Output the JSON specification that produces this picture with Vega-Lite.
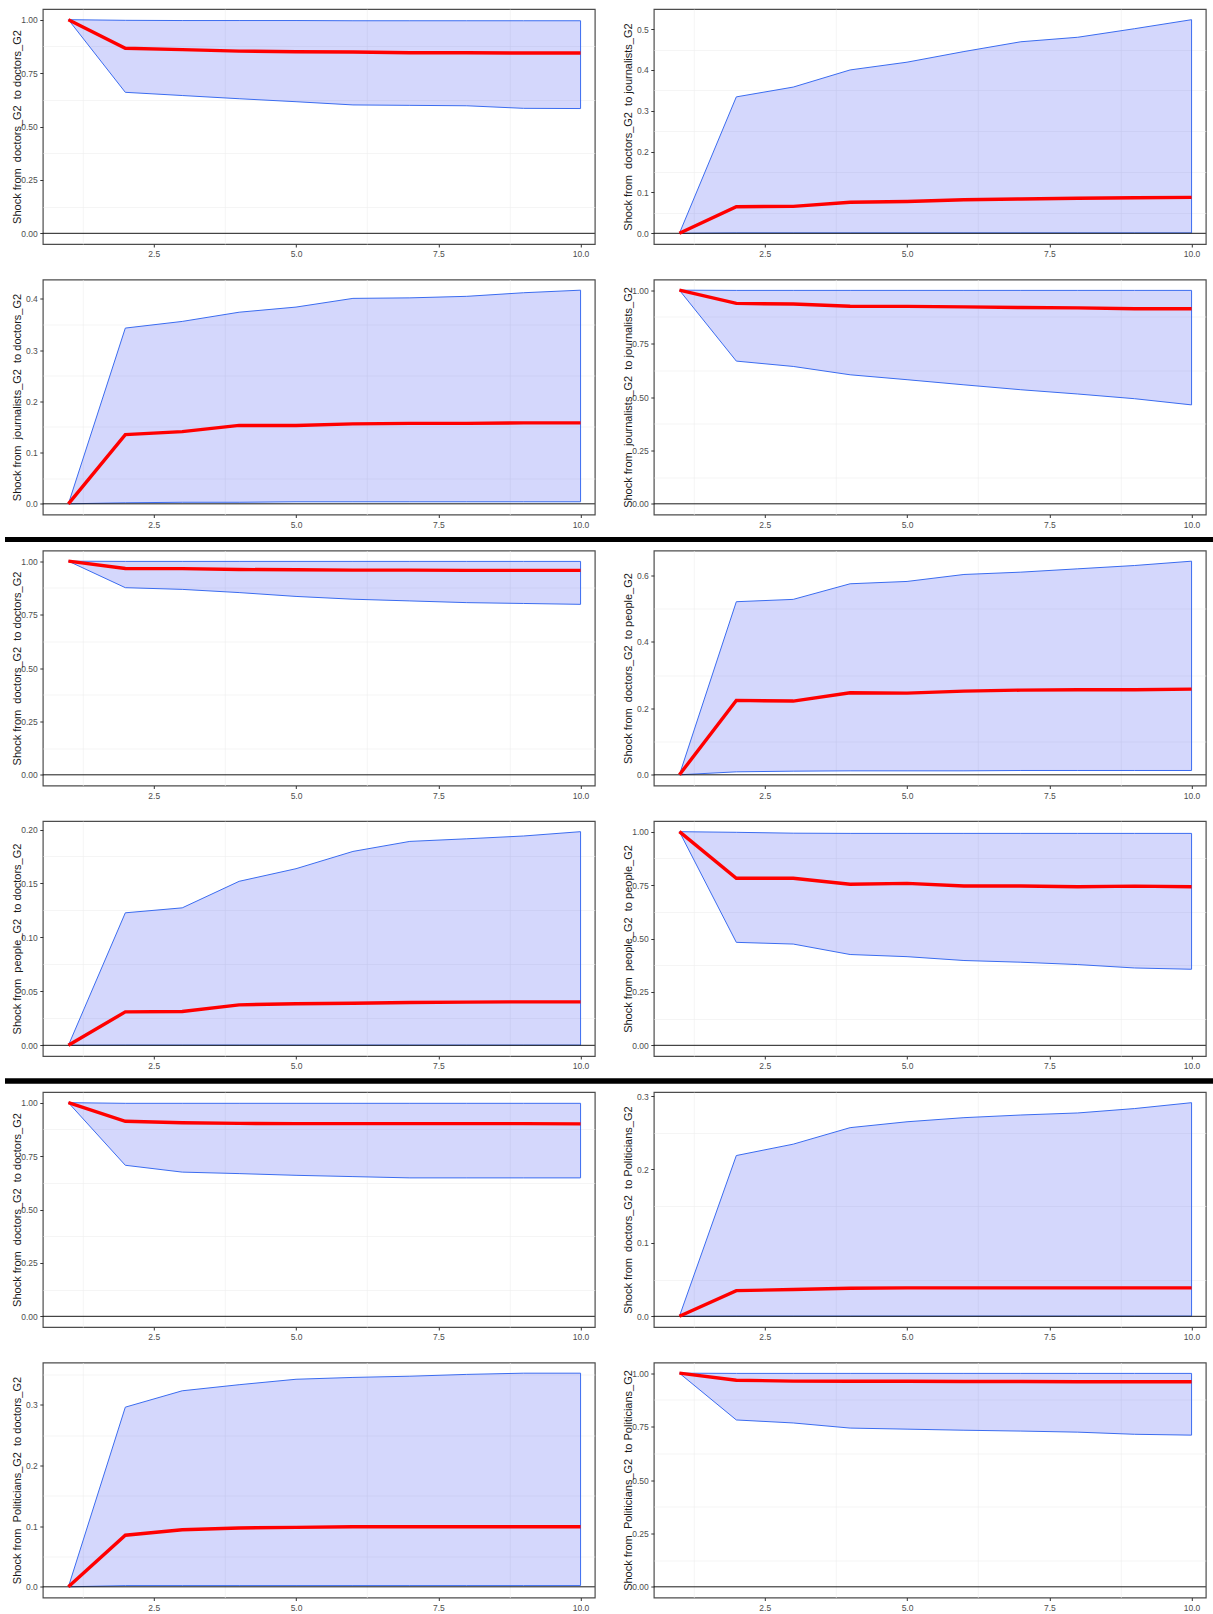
{
"$schema": "https://vega.github.io/schema/vega-lite/v6.json",
"padding": {"left": 5, "top": 8, "right": 0, "bottom": 0},
"background": "#ffffff",
"datasets": {"irf": [
{"p":1,"h":1,"irf":1,"lo":1,"hi":1},{"p":1,"h":2,"irf":0.866,"lo":0.66,"hi":0.997},{"p":1,"h":3,"irf":0.86,"lo":0.645,"hi":0.996},{"p":1,"h":4,"irf":0.853,"lo":0.63,"hi":0.996},{"p":1,"h":5,"irf":0.85,"lo":0.616,"hi":0.996},{"p":1,"h":6,"irf":0.849,"lo":0.601,"hi":0.995},{"p":1,"h":7,"irf":0.845,"lo":0.599,"hi":0.995},{"p":1,"h":8,"irf":0.845,"lo":0.597,"hi":0.995},{"p":1,"h":9,"irf":0.844,"lo":0.585,"hi":0.995},{"p":1,"h":10,"irf":0.844,"lo":0.584,"hi":0.995},
{"p":2,"h":1,"irf":0,"lo":0,"hi":0},{"p":2,"h":2,"irf":0.065,"lo":0.001,"hi":0.334},{"p":2,"h":3,"irf":0.066,"lo":0.001,"hi":0.358},{"p":2,"h":4,"irf":0.076,"lo":0.001,"hi":0.4},{"p":2,"h":5,"irf":0.078,"lo":0.001,"hi":0.419},{"p":2,"h":6,"irf":0.082,"lo":0.001,"hi":0.445},{"p":2,"h":7,"irf":0.084,"lo":0.001,"hi":0.469},{"p":2,"h":8,"irf":0.086,"lo":0.001,"hi":0.48},{"p":2,"h":9,"irf":0.087,"lo":0.001,"hi":0.501},{"p":2,"h":10,"irf":0.088,"lo":0.001,"hi":0.523},
{"p":3,"h":1,"irf":0,"lo":0,"hi":0},{"p":3,"h":2,"irf":0.135,"lo":0.002,"hi":0.343},{"p":3,"h":3,"irf":0.141,"lo":0.003,"hi":0.356},{"p":3,"h":4,"irf":0.153,"lo":0.003,"hi":0.374},{"p":3,"h":5,"irf":0.153,"lo":0.004,"hi":0.384},{"p":3,"h":6,"irf":0.156,"lo":0.004,"hi":0.401},{"p":3,"h":7,"irf":0.157,"lo":0.004,"hi":0.402},{"p":3,"h":8,"irf":0.157,"lo":0.004,"hi":0.405},{"p":3,"h":9,"irf":0.158,"lo":0.004,"hi":0.412},{"p":3,"h":10,"irf":0.158,"lo":0.004,"hi":0.417},
{"p":4,"h":1,"irf":1,"lo":1,"hi":1},{"p":4,"h":2,"irf":0.938,"lo":0.668,"hi":0.999},{"p":4,"h":3,"irf":0.935,"lo":0.643,"hi":0.999},{"p":4,"h":4,"irf":0.925,"lo":0.604,"hi":0.999},{"p":4,"h":5,"irf":0.924,"lo":0.581,"hi":0.999},{"p":4,"h":6,"irf":0.922,"lo":0.557,"hi":0.999},{"p":4,"h":7,"irf":0.919,"lo":0.534,"hi":0.999},{"p":4,"h":8,"irf":0.917,"lo":0.514,"hi":0.999},{"p":4,"h":9,"irf":0.913,"lo":0.492,"hi":0.999},{"p":4,"h":10,"irf":0.913,"lo":0.463,"hi":0.999},
{"p":5,"h":1,"irf":1,"lo":1,"hi":1},{"p":5,"h":2,"irf":0.966,"lo":0.876,"hi":0.999},{"p":5,"h":3,"irf":0.965,"lo":0.868,"hi":0.999},{"p":5,"h":4,"irf":0.961,"lo":0.853,"hi":0.999},{"p":5,"h":5,"irf":0.96,"lo":0.835,"hi":0.999},{"p":5,"h":6,"irf":0.958,"lo":0.822,"hi":0.999},{"p":5,"h":7,"irf":0.958,"lo":0.814,"hi":0.999},{"p":5,"h":8,"irf":0.957,"lo":0.806,"hi":0.999},{"p":5,"h":9,"irf":0.957,"lo":0.802,"hi":0.999},{"p":5,"h":10,"irf":0.957,"lo":0.798,"hi":0.999},
{"p":6,"h":1,"irf":0,"lo":0,"hi":0},{"p":6,"h":2,"irf":0.224,"lo":0.009,"hi":0.521},{"p":6,"h":3,"irf":0.222,"lo":0.011,"hi":0.528},{"p":6,"h":4,"irf":0.247,"lo":0.012,"hi":0.575},{"p":6,"h":5,"irf":0.246,"lo":0.012,"hi":0.582},{"p":6,"h":6,"irf":0.252,"lo":0.012,"hi":0.603},{"p":6,"h":7,"irf":0.255,"lo":0.013,"hi":0.61},{"p":6,"h":8,"irf":0.256,"lo":0.013,"hi":0.62},{"p":6,"h":9,"irf":0.256,"lo":0.013,"hi":0.63},{"p":6,"h":10,"irf":0.258,"lo":0.013,"hi":0.643},
{"p":7,"h":1,"irf":0,"lo":0,"hi":0},{"p":7,"h":2,"irf":0.031,"lo":0.0002,"hi":0.1228},{"p":7,"h":3,"irf":0.0314,"lo":0.0002,"hi":0.1274},{"p":7,"h":4,"irf":0.0375,"lo":0.0002,"hi":0.152},{"p":7,"h":5,"irf":0.0385,"lo":0.0002,"hi":0.1637},{"p":7,"h":6,"irf":0.039,"lo":0.0002,"hi":0.1797},{"p":7,"h":7,"irf":0.0397,"lo":0.0002,"hi":0.189},{"p":7,"h":8,"irf":0.04,"lo":0.0002,"hi":0.1914},{"p":7,"h":9,"irf":0.0403,"lo":0.0002,"hi":0.194},{"p":7,"h":10,"irf":0.0403,"lo":0.0002,"hi":0.198},
{"p":8,"h":1,"irf":1,"lo":1,"hi":1},{"p":8,"h":2,"irf":0.782,"lo":0.482,"hi":0.997},{"p":8,"h":3,"irf":0.782,"lo":0.474,"hi":0.993},{"p":8,"h":4,"irf":0.754,"lo":0.425,"hi":0.992},{"p":8,"h":5,"irf":0.758,"lo":0.415,"hi":0.992},{"p":8,"h":6,"irf":0.746,"lo":0.397,"hi":0.992},{"p":8,"h":7,"irf":0.746,"lo":0.389,"hi":0.992},{"p":8,"h":8,"irf":0.742,"lo":0.378,"hi":0.992},{"p":8,"h":9,"irf":0.745,"lo":0.362,"hi":0.992},{"p":8,"h":10,"irf":0.742,"lo":0.356,"hi":0.992},
{"p":9,"h":1,"irf":1,"lo":1,"hi":1},{"p":9,"h":2,"irf":0.913,"lo":0.707,"hi":0.997},{"p":9,"h":3,"irf":0.906,"lo":0.675,"hi":0.997},{"p":9,"h":4,"irf":0.903,"lo":0.668,"hi":0.997},{"p":9,"h":5,"irf":0.902,"lo":0.66,"hi":0.997},{"p":9,"h":6,"irf":0.902,"lo":0.654,"hi":0.997},{"p":9,"h":7,"irf":0.902,"lo":0.648,"hi":0.997},{"p":9,"h":8,"irf":0.902,"lo":0.648,"hi":0.997},{"p":9,"h":9,"irf":0.902,"lo":0.648,"hi":0.997},{"p":9,"h":10,"irf":0.901,"lo":0.648,"hi":0.997},
{"p":10,"h":1,"irf":0,"lo":0,"hi":0},{"p":10,"h":2,"irf":0.035,"lo":0.0003,"hi":0.219},{"p":10,"h":3,"irf":0.0365,"lo":0.0003,"hi":0.2345},{"p":10,"h":4,"irf":0.0383,"lo":0.0003,"hi":0.257},{"p":10,"h":5,"irf":0.0388,"lo":0.0003,"hi":0.265},{"p":10,"h":6,"irf":0.0388,"lo":0.0003,"hi":0.2706},{"p":10,"h":7,"irf":0.0388,"lo":0.0003,"hi":0.2742},{"p":10,"h":8,"irf":0.0388,"lo":0.0003,"hi":0.277},{"p":10,"h":9,"irf":0.0388,"lo":0.0003,"hi":0.283},{"p":10,"h":10,"irf":0.0388,"lo":0.0003,"hi":0.291},
{"p":11,"h":1,"irf":0,"lo":0,"hi":0},{"p":11,"h":2,"irf":0.085,"lo":0.002,"hi":0.296},{"p":11,"h":3,"irf":0.094,"lo":0.002,"hi":0.323},{"p":11,"h":4,"irf":0.097,"lo":0.002,"hi":0.333},{"p":11,"h":5,"irf":0.098,"lo":0.002,"hi":0.342},{"p":11,"h":6,"irf":0.099,"lo":0.002,"hi":0.345},{"p":11,"h":7,"irf":0.099,"lo":0.002,"hi":0.347},{"p":11,"h":8,"irf":0.099,"lo":0.002,"hi":0.35},{"p":11,"h":9,"irf":0.099,"lo":0.002,"hi":0.352},{"p":11,"h":10,"irf":0.099,"lo":0.002,"hi":0.352},
{"p":12,"h":1,"irf":1,"lo":1,"hi":1},{"p":12,"h":2,"irf":0.967,"lo":0.781,"hi":0.999},{"p":12,"h":3,"irf":0.963,"lo":0.767,"hi":0.999},{"p":12,"h":4,"irf":0.962,"lo":0.743,"hi":0.999},{"p":12,"h":5,"irf":0.962,"lo":0.738,"hi":0.999},{"p":12,"h":6,"irf":0.961,"lo":0.733,"hi":0.999},{"p":12,"h":7,"irf":0.961,"lo":0.729,"hi":0.999},{"p":12,"h":8,"irf":0.96,"lo":0.724,"hi":0.999},{"p":12,"h":9,"irf":0.96,"lo":0.714,"hi":0.999},{"p":12,"h":10,"irf":0.96,"lo":0.71,"hi":0.999}
]},
"data": {"name": "irf"},
"spacing": 7.5,
"config": {
  "view": {"stroke": "#4d4d4d", "strokeWidth": 1.2},
  "axis": {"labelFont": "Liberation Sans", "labelFontSize": 8.5, "labelColor": "#4d4d4d", "titleFont": "Liberation Sans", "titleFontSize": 11, "titleFontWeight": "normal", "titleColor": "#1a1a1a", "tickColor": "#333333", "tickSize": 3, "tickWidth": 1, "labelPadding": 2.5, "titlePadding": 0.5, "gridColor": "#e2e2e2", "gridWidth": 1, "domain": false, "labelOverlap": false, "labelFlush": false}
},
"vconcat": [
{"hconcat": [
 {"width":1,"height":1,"data":{"values":[{"s":1}]},"mark":{"type":"rect","opacity":0},"encoding":{},"view":{"stroke":null}},
 {"hconcat": [
 {"width":552,"height":235,"transform":[{"filter":"datum.p == 1"}],"layer":[
  {"mark":{"type":"area","fill":"#1a2bf0","fillOpacity":0.19,"stroke":"#3b6cf0","strokeWidth":1},"encoding":{"x":{"field":"h","type":"quantitative","scale":{"domain":[0.55,10.25],"nice":false,"zero":false},"axis":{"orient":"top","values":[1.25,3.75,6.25,8.75],"labels":false,"ticks":false,"grid":true,"gridColor":"#efefef","gridWidth":0.6,"title":null}},"y":{"field":"lo","type":"quantitative","scale":{"domain":[-0.05,1.05],"nice":false,"zero":false},"axis":{"orient":"right","values":[0.125,0.375,0.625,0.875],"labels":false,"ticks":false,"grid":true,"gridColor":"#efefef","gridWidth":0.6,"title":null}},"y2":{"field":"hi"}}},
  {"transform":[{"filter":"datum.h == 1"}],"mark":{"type":"rule","color":"#1a1a1a","strokeWidth":1},"encoding":{"y":{"datum":0,"axis":null}}},
  {"mark":{"type":"line","color":"#ff0000","strokeWidth":3.4},"encoding":{"x":{"field":"h","type":"quantitative","axis":{"orient":"bottom","values":[2.5,5,7.5,10],"format":".1f","title":null,"minExtent":26}},"y":{"field":"irf","type":"quantitative","axis":{"orient":"left","values":[0,0.25,0.5,0.75,1],"format":".2f","title":"Shock from \u00a0doctors_G2 \u00a0to doctors_G2","minExtent":20,"maxExtent":20}}}}
 ]},
 {"width":552,"height":235,"transform":[{"filter":"datum.p == 2"}],"layer":[
  {"mark":{"type":"area","fill":"#1a2bf0","fillOpacity":0.19,"stroke":"#3b6cf0","strokeWidth":1},"encoding":{"x":{"field":"h","type":"quantitative","scale":{"domain":[0.55,10.25],"nice":false,"zero":false},"axis":{"orient":"top","values":[1.25,3.75,6.25,8.75],"labels":false,"ticks":false,"grid":true,"gridColor":"#efefef","gridWidth":0.6,"title":null}},"y":{"field":"lo","type":"quantitative","scale":{"domain":[-0.0262,0.5492],"nice":false,"zero":false},"axis":{"orient":"right","values":[0.05,0.15,0.25,0.35,0.45],"labels":false,"ticks":false,"grid":true,"gridColor":"#efefef","gridWidth":0.6,"title":null}},"y2":{"field":"hi"}}},
  {"transform":[{"filter":"datum.h == 1"}],"mark":{"type":"rule","color":"#1a1a1a","strokeWidth":1},"encoding":{"y":{"datum":0,"axis":null}}},
  {"mark":{"type":"line","color":"#ff0000","strokeWidth":3.4},"encoding":{"x":{"field":"h","type":"quantitative","axis":{"orient":"bottom","values":[2.5,5,7.5,10],"format":".1f","title":null,"minExtent":26}},"y":{"field":"irf","type":"quantitative","axis":{"orient":"left","values":[0,0.1,0.2,0.3,0.4,0.5],"format":".1f","title":"Shock from \u00a0doctors_G2 \u00a0to journalists_G2","minExtent":20,"maxExtent":20}}}}
 ]}
 ],"spacing":24}
],"spacing":3.8},
{"hconcat": [
 {"width":1,"height":1,"data":{"values":[{"s":1}]},"mark":{"type":"rect","opacity":0},"encoding":{},"view":{"stroke":null}},
 {"hconcat": [
 {"width":552,"height":235,"transform":[{"filter":"datum.p == 3"}],"layer":[
  {"mark":{"type":"area","fill":"#1a2bf0","fillOpacity":0.19,"stroke":"#3b6cf0","strokeWidth":1},"encoding":{"x":{"field":"h","type":"quantitative","scale":{"domain":[0.55,10.25],"nice":false,"zero":false},"axis":{"orient":"top","values":[1.25,3.75,6.25,8.75],"labels":false,"ticks":false,"grid":true,"gridColor":"#efefef","gridWidth":0.6,"title":null}},"y":{"field":"lo","type":"quantitative","scale":{"domain":[-0.02085,0.43785],"nice":false,"zero":false},"axis":{"orient":"right","values":[0.05,0.15,0.25,0.35],"labels":false,"ticks":false,"grid":true,"gridColor":"#efefef","gridWidth":0.6,"title":null}},"y2":{"field":"hi"}}},
  {"transform":[{"filter":"datum.h == 1"}],"mark":{"type":"rule","color":"#1a1a1a","strokeWidth":1},"encoding":{"y":{"datum":0,"axis":null}}},
  {"mark":{"type":"line","color":"#ff0000","strokeWidth":3.4},"encoding":{"x":{"field":"h","type":"quantitative","axis":{"orient":"bottom","values":[2.5,5,7.5,10],"format":".1f","title":null,"minExtent":14}},"y":{"field":"irf","type":"quantitative","axis":{"orient":"left","values":[0,0.1,0.2,0.3,0.4],"format":".1f","title":"Shock from \u00a0journalists_G2 \u00a0to doctors_G2","minExtent":20,"maxExtent":20}}}}
 ]},
 {"width":552,"height":235,"transform":[{"filter":"datum.p == 4"}],"layer":[
  {"mark":{"type":"area","fill":"#1a2bf0","fillOpacity":0.19,"stroke":"#3b6cf0","strokeWidth":1},"encoding":{"x":{"field":"h","type":"quantitative","scale":{"domain":[0.55,10.25],"nice":false,"zero":false},"axis":{"orient":"top","values":[1.25,3.75,6.25,8.75],"labels":false,"ticks":false,"grid":true,"gridColor":"#efefef","gridWidth":0.6,"title":null}},"y":{"field":"lo","type":"quantitative","scale":{"domain":[-0.05,1.05],"nice":false,"zero":false},"axis":{"orient":"right","values":[0.125,0.375,0.625,0.875],"labels":false,"ticks":false,"grid":true,"gridColor":"#efefef","gridWidth":0.6,"title":null}},"y2":{"field":"hi"}}},
  {"transform":[{"filter":"datum.h == 1"}],"mark":{"type":"rule","color":"#1a1a1a","strokeWidth":1},"encoding":{"y":{"datum":0,"axis":null}}},
  {"mark":{"type":"line","color":"#ff0000","strokeWidth":3.4},"encoding":{"x":{"field":"h","type":"quantitative","axis":{"orient":"bottom","values":[2.5,5,7.5,10],"format":".1f","title":null,"minExtent":14}},"y":{"field":"irf","type":"quantitative","axis":{"orient":"left","values":[0,0.25,0.5,0.75,1],"format":".2f","title":"Shock from \u00a0journalists_G2 \u00a0to journalists_G2","minExtent":20,"maxExtent":20}}}}
 ]}
 ],"spacing":24}
],"spacing":3.8},
{"width":1208,"height":5,"data":{"values":[{"s":1}]},"mark":{"type":"rect","color":"#000000"},"encoding":{},"view":{"stroke":null,"fill":"#000000"}},
{"hconcat": [
 {"width":1,"height":1,"data":{"values":[{"s":1}]},"mark":{"type":"rect","opacity":0},"encoding":{},"view":{"stroke":null}},
 {"hconcat": [
 {"width":552,"height":235,"transform":[{"filter":"datum.p == 5"}],"layer":[
  {"mark":{"type":"area","fill":"#1a2bf0","fillOpacity":0.19,"stroke":"#3b6cf0","strokeWidth":1},"encoding":{"x":{"field":"h","type":"quantitative","scale":{"domain":[0.55,10.25],"nice":false,"zero":false},"axis":{"orient":"top","values":[1.25,3.75,6.25,8.75],"labels":false,"ticks":false,"grid":true,"gridColor":"#efefef","gridWidth":0.6,"title":null}},"y":{"field":"lo","type":"quantitative","scale":{"domain":[-0.05,1.05],"nice":false,"zero":false},"axis":{"orient":"right","values":[0.125,0.375,0.625,0.875],"labels":false,"ticks":false,"grid":true,"gridColor":"#efefef","gridWidth":0.6,"title":null}},"y2":{"field":"hi"}}},
  {"transform":[{"filter":"datum.h == 1"}],"mark":{"type":"rule","color":"#1a1a1a","strokeWidth":1},"encoding":{"y":{"datum":0,"axis":null}}},
  {"mark":{"type":"line","color":"#ff0000","strokeWidth":3.4},"encoding":{"x":{"field":"h","type":"quantitative","axis":{"orient":"bottom","values":[2.5,5,7.5,10],"format":".1f","title":null,"minExtent":26}},"y":{"field":"irf","type":"quantitative","axis":{"orient":"left","values":[0,0.25,0.5,0.75,1],"format":".2f","title":"Shock from \u00a0doctors_G2 \u00a0to doctors_G2","minExtent":20,"maxExtent":20}}}}
 ]},
 {"width":552,"height":235,"transform":[{"filter":"datum.p == 6"}],"layer":[
  {"mark":{"type":"area","fill":"#1a2bf0","fillOpacity":0.19,"stroke":"#3b6cf0","strokeWidth":1},"encoding":{"x":{"field":"h","type":"quantitative","scale":{"domain":[0.55,10.25],"nice":false,"zero":false},"axis":{"orient":"top","values":[1.25,3.75,6.25,8.75],"labels":false,"ticks":false,"grid":true,"gridColor":"#efefef","gridWidth":0.6,"title":null}},"y":{"field":"lo","type":"quantitative","scale":{"domain":[-0.03215,0.67515],"nice":false,"zero":false},"axis":{"orient":"right","values":[0.1,0.3,0.5],"labels":false,"ticks":false,"grid":true,"gridColor":"#efefef","gridWidth":0.6,"title":null}},"y2":{"field":"hi"}}},
  {"transform":[{"filter":"datum.h == 1"}],"mark":{"type":"rule","color":"#1a1a1a","strokeWidth":1},"encoding":{"y":{"datum":0,"axis":null}}},
  {"mark":{"type":"line","color":"#ff0000","strokeWidth":3.4},"encoding":{"x":{"field":"h","type":"quantitative","axis":{"orient":"bottom","values":[2.5,5,7.5,10],"format":".1f","title":null,"minExtent":26}},"y":{"field":"irf","type":"quantitative","axis":{"orient":"left","values":[0,0.2,0.4,0.6],"format":".1f","title":"Shock from \u00a0doctors_G2 \u00a0to people_G2","minExtent":20,"maxExtent":20}}}}
 ]}
 ],"spacing":24}
],"spacing":3.8},
{"hconcat": [
 {"width":1,"height":1,"data":{"values":[{"s":1}]},"mark":{"type":"rect","opacity":0},"encoding":{},"view":{"stroke":null}},
 {"hconcat": [
 {"width":552,"height":235,"transform":[{"filter":"datum.p == 7"}],"layer":[
  {"mark":{"type":"area","fill":"#1a2bf0","fillOpacity":0.19,"stroke":"#3b6cf0","strokeWidth":1},"encoding":{"x":{"field":"h","type":"quantitative","scale":{"domain":[0.55,10.25],"nice":false,"zero":false},"axis":{"orient":"top","values":[1.25,3.75,6.25,8.75],"labels":false,"ticks":false,"grid":true,"gridColor":"#efefef","gridWidth":0.6,"title":null}},"y":{"field":"lo","type":"quantitative","scale":{"domain":[-0.0099,0.2079],"nice":false,"zero":false},"axis":{"orient":"right","values":[0.025,0.075,0.125,0.175],"labels":false,"ticks":false,"grid":true,"gridColor":"#efefef","gridWidth":0.6,"title":null}},"y2":{"field":"hi"}}},
  {"transform":[{"filter":"datum.h == 1"}],"mark":{"type":"rule","color":"#1a1a1a","strokeWidth":1},"encoding":{"y":{"datum":0,"axis":null}}},
  {"mark":{"type":"line","color":"#ff0000","strokeWidth":3.4},"encoding":{"x":{"field":"h","type":"quantitative","axis":{"orient":"bottom","values":[2.5,5,7.5,10],"format":".1f","title":null,"minExtent":14}},"y":{"field":"irf","type":"quantitative","axis":{"orient":"left","values":[0,0.05,0.1,0.15,0.2],"format":".2f","title":"Shock from \u00a0people_G2 \u00a0to doctors_G2","minExtent":20,"maxExtent":20}}}}
 ]},
 {"width":552,"height":235,"transform":[{"filter":"datum.p == 8"}],"layer":[
  {"mark":{"type":"area","fill":"#1a2bf0","fillOpacity":0.19,"stroke":"#3b6cf0","strokeWidth":1},"encoding":{"x":{"field":"h","type":"quantitative","scale":{"domain":[0.55,10.25],"nice":false,"zero":false},"axis":{"orient":"top","values":[1.25,3.75,6.25,8.75],"labels":false,"ticks":false,"grid":true,"gridColor":"#efefef","gridWidth":0.6,"title":null}},"y":{"field":"lo","type":"quantitative","scale":{"domain":[-0.05,1.05],"nice":false,"zero":false},"axis":{"orient":"right","values":[0.125,0.375,0.625,0.875],"labels":false,"ticks":false,"grid":true,"gridColor":"#efefef","gridWidth":0.6,"title":null}},"y2":{"field":"hi"}}},
  {"transform":[{"filter":"datum.h == 1"}],"mark":{"type":"rule","color":"#1a1a1a","strokeWidth":1},"encoding":{"y":{"datum":0,"axis":null}}},
  {"mark":{"type":"line","color":"#ff0000","strokeWidth":3.4},"encoding":{"x":{"field":"h","type":"quantitative","axis":{"orient":"bottom","values":[2.5,5,7.5,10],"format":".1f","title":null,"minExtent":14}},"y":{"field":"irf","type":"quantitative","axis":{"orient":"left","values":[0,0.25,0.5,0.75,1],"format":".2f","title":"Shock from \u00a0people_G2 \u00a0to people_G2","minExtent":20,"maxExtent":20}}}}
 ]}
 ],"spacing":24}
],"spacing":3.8},
{"width":1208,"height":5,"data":{"values":[{"s":1}]},"mark":{"type":"rect","color":"#000000"},"encoding":{},"view":{"stroke":null,"fill":"#000000"}},
{"hconcat": [
 {"width":1,"height":1,"data":{"values":[{"s":1}]},"mark":{"type":"rect","opacity":0},"encoding":{},"view":{"stroke":null}},
 {"hconcat": [
 {"width":552,"height":235,"transform":[{"filter":"datum.p == 9"}],"layer":[
  {"mark":{"type":"area","fill":"#1a2bf0","fillOpacity":0.19,"stroke":"#3b6cf0","strokeWidth":1},"encoding":{"x":{"field":"h","type":"quantitative","scale":{"domain":[0.55,10.25],"nice":false,"zero":false},"axis":{"orient":"top","values":[1.25,3.75,6.25,8.75],"labels":false,"ticks":false,"grid":true,"gridColor":"#efefef","gridWidth":0.6,"title":null}},"y":{"field":"lo","type":"quantitative","scale":{"domain":[-0.05,1.05],"nice":false,"zero":false},"axis":{"orient":"right","values":[0.125,0.375,0.625,0.875],"labels":false,"ticks":false,"grid":true,"gridColor":"#efefef","gridWidth":0.6,"title":null}},"y2":{"field":"hi"}}},
  {"transform":[{"filter":"datum.h == 1"}],"mark":{"type":"rule","color":"#1a1a1a","strokeWidth":1},"encoding":{"y":{"datum":0,"axis":null}}},
  {"mark":{"type":"line","color":"#ff0000","strokeWidth":3.4},"encoding":{"x":{"field":"h","type":"quantitative","axis":{"orient":"bottom","values":[2.5,5,7.5,10],"format":".1f","title":null,"minExtent":26}},"y":{"field":"irf","type":"quantitative","axis":{"orient":"left","values":[0,0.25,0.5,0.75,1],"format":".2f","title":"Shock from \u00a0doctors_G2 \u00a0to doctors_G2","minExtent":20,"maxExtent":20}}}}
 ]},
 {"width":552,"height":235,"transform":[{"filter":"datum.p == 10"}],"layer":[
  {"mark":{"type":"area","fill":"#1a2bf0","fillOpacity":0.19,"stroke":"#3b6cf0","strokeWidth":1},"encoding":{"x":{"field":"h","type":"quantitative","scale":{"domain":[0.55,10.25],"nice":false,"zero":false},"axis":{"orient":"top","values":[1.25,3.75,6.25,8.75],"labels":false,"ticks":false,"grid":true,"gridColor":"#efefef","gridWidth":0.6,"title":null}},"y":{"field":"lo","type":"quantitative","scale":{"domain":[-0.01455,0.30555],"nice":false,"zero":false},"axis":{"orient":"right","values":[0.05,0.15,0.25],"labels":false,"ticks":false,"grid":true,"gridColor":"#efefef","gridWidth":0.6,"title":null}},"y2":{"field":"hi"}}},
  {"transform":[{"filter":"datum.h == 1"}],"mark":{"type":"rule","color":"#1a1a1a","strokeWidth":1},"encoding":{"y":{"datum":0,"axis":null}}},
  {"mark":{"type":"line","color":"#ff0000","strokeWidth":3.4},"encoding":{"x":{"field":"h","type":"quantitative","axis":{"orient":"bottom","values":[2.5,5,7.5,10],"format":".1f","title":null,"minExtent":26}},"y":{"field":"irf","type":"quantitative","axis":{"orient":"left","values":[0,0.1,0.2,0.3],"format":".1f","title":"Shock from \u00a0doctors_G2 \u00a0to Politicians_G2","minExtent":20,"maxExtent":20}}}}
 ]}
 ],"spacing":24}
],"spacing":3.8},
{"hconcat": [
 {"width":1,"height":1,"data":{"values":[{"s":1}]},"mark":{"type":"rect","opacity":0},"encoding":{},"view":{"stroke":null}},
 {"hconcat": [
 {"width":552,"height":235,"transform":[{"filter":"datum.p == 11"}],"layer":[
  {"mark":{"type":"area","fill":"#1a2bf0","fillOpacity":0.19,"stroke":"#3b6cf0","strokeWidth":1},"encoding":{"x":{"field":"h","type":"quantitative","scale":{"domain":[0.55,10.25],"nice":false,"zero":false},"axis":{"orient":"top","values":[1.25,3.75,6.25,8.75],"labels":false,"ticks":false,"grid":true,"gridColor":"#efefef","gridWidth":0.6,"title":null}},"y":{"field":"lo","type":"quantitative","scale":{"domain":[-0.0176,0.3696],"nice":false,"zero":false},"axis":{"orient":"right","values":[0.05,0.15,0.25,0.35],"labels":false,"ticks":false,"grid":true,"gridColor":"#efefef","gridWidth":0.6,"title":null}},"y2":{"field":"hi"}}},
  {"transform":[{"filter":"datum.h == 1"}],"mark":{"type":"rule","color":"#1a1a1a","strokeWidth":1},"encoding":{"y":{"datum":0,"axis":null}}},
  {"mark":{"type":"line","color":"#ff0000","strokeWidth":3.4},"encoding":{"x":{"field":"h","type":"quantitative","axis":{"orient":"bottom","values":[2.5,5,7.5,10],"format":".1f","title":null,"minExtent":14}},"y":{"field":"irf","type":"quantitative","axis":{"orient":"left","values":[0,0.1,0.2,0.3],"format":".1f","title":"Shock from \u00a0Politicians_G2 \u00a0to doctors_G2","minExtent":20,"maxExtent":20}}}}
 ]},
 {"width":552,"height":235,"transform":[{"filter":"datum.p == 12"}],"layer":[
  {"mark":{"type":"area","fill":"#1a2bf0","fillOpacity":0.19,"stroke":"#3b6cf0","strokeWidth":1},"encoding":{"x":{"field":"h","type":"quantitative","scale":{"domain":[0.55,10.25],"nice":false,"zero":false},"axis":{"orient":"top","values":[1.25,3.75,6.25,8.75],"labels":false,"ticks":false,"grid":true,"gridColor":"#efefef","gridWidth":0.6,"title":null}},"y":{"field":"lo","type":"quantitative","scale":{"domain":[-0.05,1.05],"nice":false,"zero":false},"axis":{"orient":"right","values":[0.125,0.375,0.625,0.875],"labels":false,"ticks":false,"grid":true,"gridColor":"#efefef","gridWidth":0.6,"title":null}},"y2":{"field":"hi"}}},
  {"transform":[{"filter":"datum.h == 1"}],"mark":{"type":"rule","color":"#1a1a1a","strokeWidth":1},"encoding":{"y":{"datum":0,"axis":null}}},
  {"mark":{"type":"line","color":"#ff0000","strokeWidth":3.4},"encoding":{"x":{"field":"h","type":"quantitative","axis":{"orient":"bottom","values":[2.5,5,7.5,10],"format":".1f","title":null,"minExtent":14}},"y":{"field":"irf","type":"quantitative","axis":{"orient":"left","values":[0,0.25,0.5,0.75,1],"format":".2f","title":"Shock from \u00a0Politicians_G2 \u00a0to Politicians_G2","minExtent":20,"maxExtent":20}}}}
 ]}
 ],"spacing":24}
],"spacing":3.8}
]
}
